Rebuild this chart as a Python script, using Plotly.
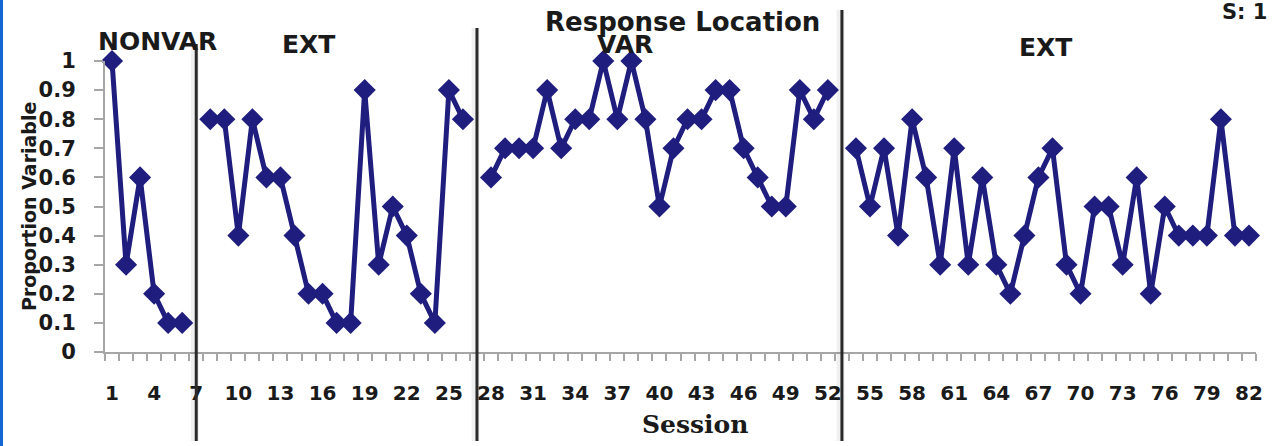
import plotly.graph_objects as go

# Proportion of variable responses per session, by phase
nonvar_sessions = [1, 2, 3, 4, 5, 6]
nonvar_values = [1.0, 0.3, 0.6, 0.2, 0.1, 0.1]

ext1_sessions = list(range(8, 27))
ext1_values = [0.8, 0.8, 0.4, 0.8, 0.6, 0.6, 0.4, 0.2, 0.2, 0.1,
               0.1, 0.9, 0.3, 0.5, 0.4, 0.2, 0.1, 0.9, 0.8]

var_sessions = list(range(28, 53))
var_values = [0.6, 0.7, 0.7, 0.7, 0.9, 0.7, 0.8, 0.8, 1.0, 0.8,
              1.0, 0.8, 0.5, 0.7, 0.8, 0.8, 0.9, 0.9, 0.7, 0.6,
              0.5, 0.5, 0.9, 0.8, 0.9]

ext2_sessions = list(range(54, 83))
ext2_values = [0.7, 0.5, 0.7, 0.4, 0.8, 0.6, 0.3, 0.7, 0.3, 0.6,
               0.3, 0.2, 0.4, 0.6, 0.7, 0.3, 0.2, 0.5, 0.5, 0.3,
               0.6, 0.2, 0.5, 0.4, 0.4, 0.4, 0.8, 0.4, 0.4]

phase_breaks = [7, 27, 53]
phase_break_tops = [44, 28, 10]          # pixel top of each phase line
phase_labels = ["NONVAR", "EXT", "VAR", "EXT"]
phase_label_pos = [(157, 41), (308, 44), (625, 45), (1045, 48)]

x_tick_vals = list(range(1, 83, 3))
y_tick_vals = [round(i * 0.1, 1) for i in range(11)]
y_tick_text = ["0"] + [f"{v:g}" for v in y_tick_vals[1:]]

W, H = 1277, 446
L, R, T, B = 105, 21, 61, 94
PW, PH = W - L - R, H - T - B


def px_x(px):
    return (px - L) / PW


def px_y(py):
    return (H - B - py) / PH


LINE_COLOR = "#1f1d7d"
TEXT_COLOR = "#1a1a1a"
FONT = "DejaVu Sans"

fig = go.Figure()
for xs, ys in [(nonvar_sessions, nonvar_values), (ext1_sessions, ext1_values),
               (var_sessions, var_values), (ext2_sessions, ext2_values)]:
    fig.add_trace(go.Scatter(
        x=xs, y=ys, mode="lines+markers",
        line=dict(color=LINE_COLOR, width=5),
        marker=dict(symbol="diamond", size=17, color=LINE_COLOR),
        cliponaxis=False, showlegend=False,
    ))

shapes = []
for xb, top in zip(phase_breaks, phase_break_tops):
    shapes.append(dict(type="line", xref="x", yref="paper", x0=xb - 0.1, x1=xb - 0.1,
                       y0=px_y(441), y1=px_y(top),
                       line=dict(color="rgba(0,0,0,0.06)", width=8), layer="above"))
    shapes.append(dict(type="line", xref="x", yref="paper", x0=xb, x1=xb,
                       y0=px_y(441), y1=px_y(top),
                       line=dict(color="#2a2a2a", width=3), layer="above"))
# left window edge strip
shapes.append(dict(type="rect", xref="paper", yref="paper",
                   x0=px_x(0), x1=px_x(3), y0=px_y(446), y1=px_y(0),
                   line=dict(width=0), fillcolor="#1167cf", layer="above"))

annotations = []
for text, (ax, ay) in zip(phase_labels, phase_label_pos):
    annotations.append(dict(text=text, x=px_x(ax), y=px_y(ay), xref="paper", yref="paper",
                            showarrow=False, xanchor="center", yanchor="middle",
                            font=dict(family=FONT, size=25, color=TEXT_COLOR, weight="bold")))
annotations.append(dict(text="Response Location", x=px_x(683), y=px_y(22),
                        xref="paper", yref="paper", showarrow=False,
                        xanchor="center", yanchor="middle",
                        font=dict(family=FONT, size=26, color=TEXT_COLOR, weight="bold")))
annotations.append(dict(text="S: 1", x=px_x(1244), y=px_y(12),
                        xref="paper", yref="paper", showarrow=False,
                        xanchor="center", yanchor="middle",
                        font=dict(family=FONT, size=21, color=TEXT_COLOR, weight="bold")))
annotations.append(dict(text="Session", x=px_x(695), y=px_y(424),
                        xref="paper", yref="paper", showarrow=False,
                        xanchor="center", yanchor="middle",
                        font=dict(family="DejaVu Serif", size=25, color=TEXT_COLOR, weight="bold")))
annotations.append(dict(text="Proportion Variable", x=px_x(29), y=px_y(207),
                        xref="paper", yref="paper", showarrow=False, textangle=-90,
                        xanchor="center", yanchor="middle",
                        font=dict(family=FONT, size=19, color=TEXT_COLOR, weight="bold")))

fig.update_layout(
    width=W, height=H, autosize=False,
    margin=dict(l=L, r=R, t=T, b=B),
    paper_bgcolor="white", plot_bgcolor="white",
    shapes=shapes, annotations=annotations,
    xaxis=dict(
        range=[0.5, 82.5], tickmode="array", tickvals=x_tick_vals,
        ticktext=[str(v) for v in x_tick_vals], ticks="", showgrid=False, zeroline=False,
        showline=True, linecolor="#a6a6a6", linewidth=2,
        tickfont=dict(family=FONT, size=20, color=TEXT_COLOR, weight="bold"),
        ticklabelstandoff=22,
        minor=dict(tick0=0.5, dtick=1, ticks="outside", ticklen=7, tickwidth=2,
                   tickcolor="#a6a6a6", showgrid=False),
    ),
    yaxis=dict(
        range=[0, 1], tickmode="array", tickvals=y_tick_vals, ticktext=y_tick_text,
        ticks="outside", ticklen=9, tickwidth=2, tickcolor="#a6a6a6",
        showgrid=False, zeroline=False, showline=True, linecolor="#a6a6a6", linewidth=2,
        tickfont=dict(family=FONT, size=21, color=TEXT_COLOR, weight="bold"),
        ticklabelstandoff=14,
    ),
)

fig.write_html("out.html")
